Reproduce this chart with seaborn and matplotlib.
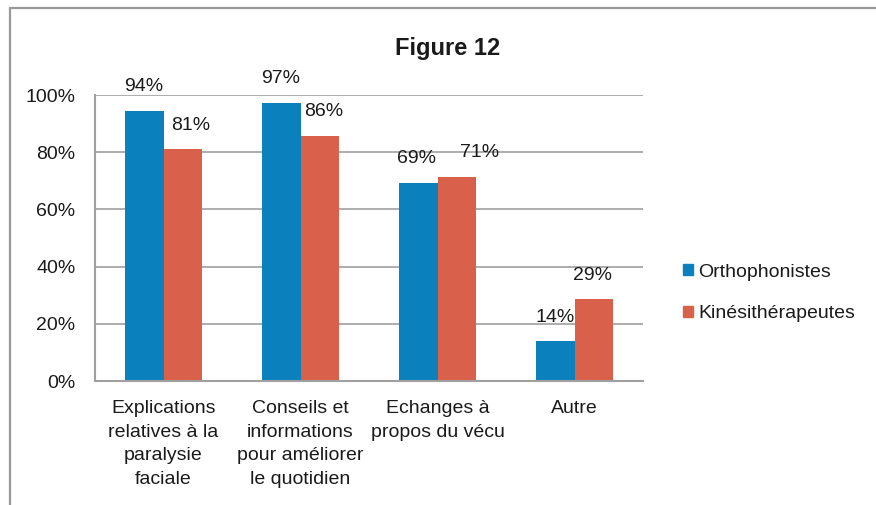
import matplotlib
matplotlib.use("Agg")
import matplotlib.pyplot as plt
import seaborn as sns
import pandas as pd
from matplotlib.lines import Line2D

categories = ["Explications\nrelatives à la\nparalysie\nfaciale",
              "Conseils et\ninformations\npour améliorer\nle quotidien",
              "Echanges à\npropos du vécu",
              "Autre"]
series_names = ["Orthophonistes", "Kinésithérapeutes"]
orthophonistes = [0.944, 0.972, 0.694, 0.139]
kinesitherapeutes = [0.810, 0.857, 0.714, 0.286]
yticks = [0, 0.2, 0.4, 0.6, 0.8, 1.0]
ytick_labels = ["0%", "20%", "40%", "60%", "80%", "100%"]
title = "Figure 12"

# label nudges (points), per series, per category
label_dx = [[-0.7, -0.7, -1.4, 0.0], [5.8, 2.9, 16.5, -0.7]]

df = pd.DataFrame({
    "cat": categories * 2,
    "serie": [series_names[0]] * 4 + [series_names[1]] * 4,
    "val": orthophonistes + kinesitherapeutes,
})

sns.set_theme(style="white")
plt.rcParams["font.family"] = ["Liberation Sans", "DejaVu Sans"]
plt.rcParams["text.color"] = "#1a1a1a"

FS = 14

fig = plt.figure(figsize=(8.76, 5.05), dpi=100)
ax = fig.add_axes([95/876, 1-381/505, (643-95)/876, (381-95)/505])

colors = ["#0A81BC", "#D9604B"]
sns.barplot(data=df, x="cat", y="val", hue="serie", order=categories,
            hue_order=series_names, palette=colors, width=0.56, gap=0,
            saturation=1, ax=ax, legend=False, linewidth=0)

ax.set_ylim(0, 1.0)
ax.set_xlim(-0.5, 3.5)
ax.set_yticks(yticks)
ax.set_yticklabels(ytick_labels)
ax.yaxis.grid(True, color="#A0A0A0", linewidth=1.2)
ax.set_axisbelow(True)
ax.set_xlabel("")
ax.set_ylabel("")
ax.tick_params(axis="y", length=0, pad=14, labelsize=FS, labelcolor="#1a1a1a")
ax.tick_params(axis="x", length=0, pad=14, labelsize=FS, labelcolor="#1a1a1a")
for lab in ax.get_xticklabels():
    lab.set_linespacing(1.5)
for s in ["top", "right"]:
    ax.spines[s].set_visible(False)
for s in ["left", "bottom"]:
    ax.spines[s].set_color("#A0A0A0")
    ax.spines[s].set_linewidth(1.5)

for si, cont in enumerate(ax.containers):
    for ci, rect in enumerate(cont):
        h = rect.get_height()
        ax.annotate(f"{round(h*100):.0f}%", (rect.get_x() + rect.get_width()/2, h),
                    xytext=(label_dx[si][ci], 17.3), textcoords="offset points",
                    ha="center", va="center", fontsize=FS, color="#1a1a1a")

fig.text(448/876, 1-48/505, title, ha="center", va="center",
         fontsize=17, fontweight="bold")

handles = [plt.Rectangle((0, 0), 1, 1, color=c) for c in colors]
fig.legend(handles, series_names, loc="center left",
           bbox_to_anchor=(683/876, 1-293/505), frameon=False, fontsize=FS,
           handlelength=0.5, handleheight=0.5, handletextpad=0.3,
           labelspacing=1.25, borderpad=0, borderaxespad=0)

fig.add_artist(Line2D([10/876, 1.0], [1-8/505, 1-8/505], transform=fig.transFigure,
                      color="#999999", linewidth=1.6))
fig.add_artist(Line2D([10/876, 10/876], [0, 1-8/505], transform=fig.transFigure,
                      color="#999999", linewidth=1.6))

fig.savefig("out.png", dpi=100)
